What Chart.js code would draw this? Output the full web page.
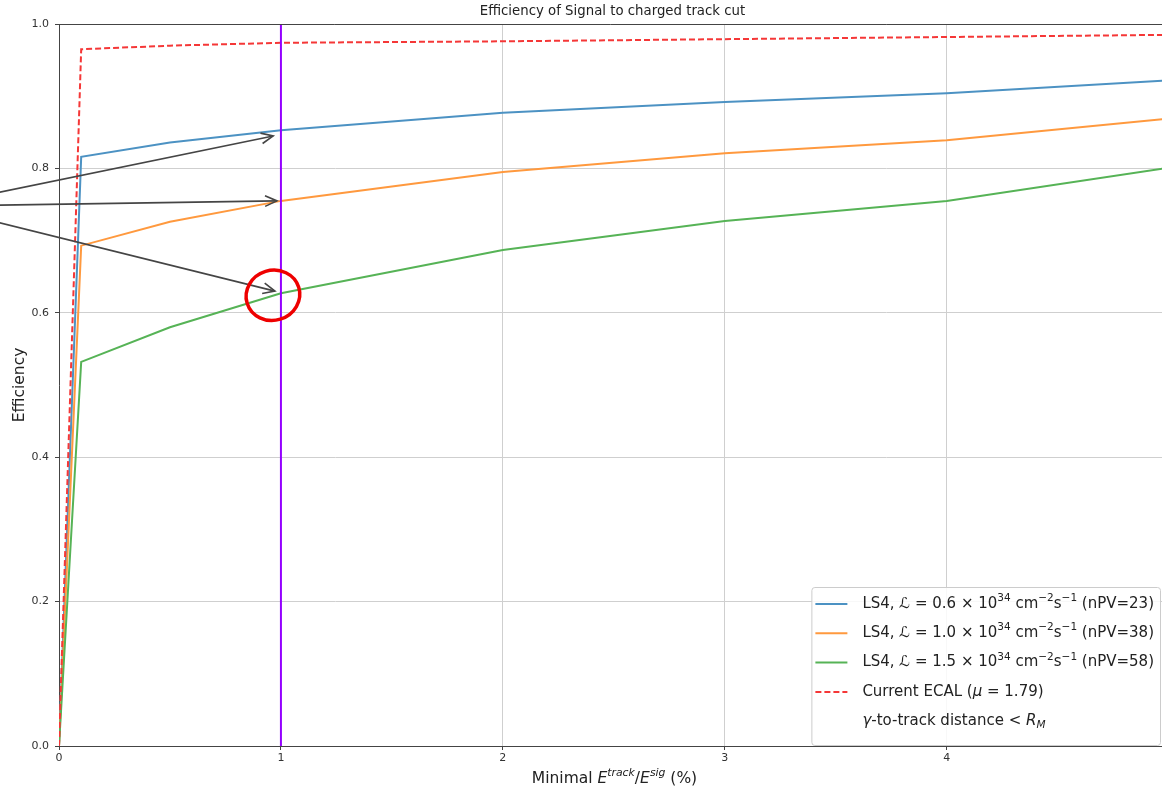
<!DOCTYPE html>
<html>
<head>
<meta charset="utf-8">
<title>Efficiency of Signal to charged track cut</title>
<script src="https://cdn.jsdelivr.net/npm/chart.js@4.4.1/dist/chart.umd.min.js"></script>
<style>
    html, body { margin: 0; padding: 0; background: #fff; overflow: hidden; }
    #wrap { width: 1162px; height: 790px; position: relative; }
</style>
</head>
<body>
<div id="wrap"><canvas id="myChart"></canvas></div>
<script>
// minimal E_track / E_sig cut (%)
const cutPercent = [0, 0.1, 0.5, 1, 2, 3, 4, 5];

// efficiencies
const effLS4Low = [0, 0.816, 0.836, 0.853, 0.877, 0.892, 0.904, 0.922];
const effLS4Mid = [0, 0.693, 0.726, 0.755, 0.795, 0.821, 0.839, 0.869];
const effLS4High = [0, 0.532, 0.580, 0.627, 0.687, 0.727, 0.755, 0.801];
const effCurrent = [0, 0.965, 0.970, 0.974, 0.976, 0.979, 0.982, 0.985];

const chosenCut = 1;
const xTicks = [0, 1, 2, 3, 4];
const yTicks = [0, 0.2, 0.4, 0.6, 0.8, 1.0];
const xMax = 4.97;

// *..* italic, ^{..} superscript, _{..} subscript
const seriesLabels = [
    'LS4, *ℒ* = 0.6 × 10^{34} cm^{−2}s^{−1} (nPV=23)',
    'LS4, *ℒ* = 1.0 × 10^{34} cm^{−2}s^{−1} (nPV=38)',
    'LS4, *ℒ* = 1.5 × 10^{34} cm^{−2}s^{−1} (nPV=58)',
    'Current ECAL (*μ* = 1.79)'
];
const extraLegendLabel = '*γ*-to-track distance < *R_{M}*';
const chartTitle = 'Efficiency of Signal to charged track cut';
const xTitle = 'Minimal *E^{track}*/*E^{sig}* (%)';
const yTitle = 'Efficiency';

// annotation arrows pointing at the chosen cut
const arrowStartY = [0.766, 0.749, 0.726];
const arrowTips = [
    { x: 0.965, y: 0.845 },
    { x: 0.982, y: 0.755 },
    { x: 0.973, y: 0.630 }
];

const FONT = '"DejaVu Sans", "Liberation Sans", sans-serif';

function toPoints(xs, ys) {
    return xs.map((x, i) => ({ x: x, y: ys[i] }));
}

function richSegments(str) {
    const segs = [];
    let italic = false;
    let buf = '';
    let i = 0;
    const flush = () => {
        if (buf) segs.push({ text: buf, italic: italic, mode: 'base' });
        buf = '';
    };
    while (i < str.length) {
        const c = str[i];
        if (c === '*') {
            flush();
            italic = !italic;
            i++;
        } else if ((c === '^' || c === '_') && str[i + 1] === '{') {
            flush();
            const end = str.indexOf('}', i);
            segs.push({ text: str.slice(i + 2, end), italic: italic, mode: c === '^' ? 'sup' : 'sub' });
            i = end + 1;
        } else {
            buf += c;
            i++;
        }
    }
    flush();
    return segs;
}

function segFont(seg, size) {
    const s = seg.mode === 'base' ? size : size * 0.7;
    return (seg.italic ? 'italic ' : '') + s + 'px ' + FONT;
}

function measureRich(ctx, str, size) {
    let w = 0;
    richSegments(str).forEach(seg => {
        ctx.font = segFont(seg, size);
        w += ctx.measureText(seg.text).width;
    });
    return w;
}

function drawRich(ctx, str, x, y, size, align) {
    const segs = richSegments(str);
    let cx = align === 'center' ? x - measureRich(ctx, str, size) / 2 : x;
    ctx.textAlign = 'left';
    ctx.textBaseline = 'middle';
    segs.forEach(seg => {
        ctx.font = segFont(seg, size);
        let dy = 0;
        if (seg.mode === 'sup') dy = -size * 0.38;
        if (seg.mode === 'sub') dy = size * 0.25;
        ctx.fillText(seg.text, cx, y + dy);
        cx += ctx.measureText(seg.text).width;
    });
}

const overlayPlugin = {
    id: 'overlay',
    afterDraw(chart) {
        const { ctx, chartArea: a } = chart;
        const xs = chart.scales.x;
        const ys = chart.scales.y;
        ctx.save();

        // top spine
        ctx.strokeStyle = '#444';
        ctx.lineWidth = 1;
        ctx.beginPath();
        ctx.moveTo(a.left, a.top + 0.5);
        ctx.lineTo(a.right, a.top + 0.5);
        ctx.stroke();

        // titles
        ctx.fillStyle = '#222';
        drawRich(ctx, chartTitle, (a.left + a.right) / 2 + 2, 12, 13.3, 'center');
        drawRich(ctx, xTitle, (a.left + a.right) / 2 + 4, 779, 15.5, 'center');

        // arrows
        ctx.strokeStyle = '#454545';
        ctx.lineWidth = 1.6;
        arrowTips.forEach((tip, i) => {
            const x0 = -4;
            const y0 = ys.getPixelForValue(arrowStartY[i]);
            const x1 = xs.getPixelForValue(tip.x);
            const y1 = ys.getPixelForValue(tip.y);
            const ang = Math.atan2(y1 - y0, x1 - x0);
            ctx.beginPath();
            ctx.moveTo(x0, y0);
            ctx.lineTo(x1, y1);
            ctx.stroke();
            const hl = 13, hw = 0.42;
            ctx.beginPath();
            ctx.moveTo(x1 - hl * Math.cos(ang - hw), y1 - hl * Math.sin(ang - hw));
            ctx.lineTo(x1, y1);
            ctx.lineTo(x1 - hl * Math.cos(ang + hw), y1 - hl * Math.sin(ang + hw));
            ctx.stroke();
        });

        // hand drawn circle round the chosen point
        const cx = xs.getPixelForValue(chosenCut) - 8;
        const cy = ys.getPixelForValue(effLS4High[cutPercent.indexOf(chosenCut)]) + 2;
        ctx.strokeStyle = '#ee0000';
        ctx.lineWidth = 3.5;
        ctx.beginPath();
        ctx.ellipse(cx, cy, 27, 25, -0.3, 0, Math.PI * 2);
        ctx.stroke();

        // legend
        const fs = 15;
        const labels = chart.data.datasets.filter(d => d.inLegend).map(d => d.label).concat([extraLegendLabel]);
        const styles = chart.data.datasets.filter(d => d.inLegend);
        let maxW = 0;
        labels.forEach(l => { maxW = Math.max(maxW, measureRich(ctx, l, fs)); });
        const boxW = 51 + maxW + 6;
        const boxH = 158;
        const right = a.right - 2;
        const left = right - boxW;
        const bottom = a.bottom - 1;
        const top = bottom - boxH;
        ctx.fillStyle = 'rgba(255,255,255,0.85)';
        ctx.strokeStyle = '#cccccc';
        ctx.lineWidth = 1;
        ctx.beginPath();
        ctx.roundRect(left + 0.5, top + 0.5, boxW, boxH, 3);
        ctx.fill();
        ctx.stroke();
        labels.forEach((l, i) => {
            const ry = top + 17 + i * 29.3;
            const st = styles[i];
            if (st) {
                ctx.strokeStyle = st.borderColor;
                ctx.lineWidth = st.borderWidth;
                ctx.setLineDash(st.borderDash || []);
                ctx.beginPath();
                ctx.moveTo(left + 4, ry);
                ctx.lineTo(left + 36, ry);
                ctx.stroke();
                ctx.setLineDash([]);
            }
            ctx.fillStyle = '#222';
            drawRich(ctx, l, left + 51, ry, fs, 'left');
        });

        ctx.restore();
    }
};

function lineSet(label, ys, color, order, dash) {
    return {
        label: label,
        data: toPoints(cutPercent, ys),
        borderColor: color,
        backgroundColor: color,
        borderWidth: 2,
        borderDash: dash || [],
        pointRadius: 0,
        tension: 0,
        fill: false,
        order: order,
        inLegend: true
    };
}

const ctx = document.getElementById('myChart').getContext('2d');
const myChart = new Chart(ctx, {
    type: 'line',
    data: {
        datasets: [
            lineSet(seriesLabels[0], effLS4Low, 'rgb(76,146,195)', 5),
            lineSet(seriesLabels[1], effLS4Mid, 'rgb(255,153,62)', 4),
            lineSet(seriesLabels[2], effLS4High, 'rgb(86,179,86)', 3),
            lineSet(seriesLabels[3], effCurrent, 'rgb(245,55,55)', 2, [6, 3]),
            {
                label: 'cut',
                data: [{ x: chosenCut, y: yTicks[0] }, { x: chosenCut, y: yTicks[yTicks.length - 1] }],
                borderColor: '#9400ff',
                borderWidth: 2,
                pointRadius: 0,
                order: 1,
                inLegend: false
            }
        ]
    },
    options: {
        responsive: true,
        maintainAspectRatio: false,
        animation: false,
        layout: { padding: { top: 24, right: 0, left: 0, bottom: 0 } },
        plugins: {
            legend: { display: false },
            title: { display: false },
            tooltip: { enabled: false }
        },
        scales: {
            x: {
                type: 'linear',
                min: 0,
                max: xMax,
                afterBuildTicks: (scale) => { scale.ticks = xTicks.map(v => ({ value: v })); },
                afterFit: (scale) => { scale.height = 44; },
                ticks: {
                    color: '#333',
                    font: { family: FONT, size: 11 },
                    padding: 2,
                    maxRotation: 0,
                    callback: (v) => String(v)
                },
                grid: { color: '#cfcfcf', lineWidth: 1, tickLength: 4, tickColor: '#444' },
                border: { display: true, color: '#444', width: 1 }
            },
            y: {
                type: 'linear',
                min: 0,
                max: 1,
                afterBuildTicks: (scale) => { scale.ticks = yTicks.map(v => ({ value: v })); },
                afterFit: (scale) => { scale.width = 59; },
                ticks: {
                    color: '#333',
                    font: { family: FONT, size: 11 },
                    padding: 6,
                    callback: (v) => Number(v).toFixed(1)
                },
                title: {
                    display: true,
                    text: yTitle,
                    color: '#222',
                    font: { family: FONT, size: 15.5 },
                    padding: { top: 11, bottom: 0 }
                },
                grid: { color: '#cfcfcf', lineWidth: 1, tickLength: 4, tickColor: '#444' },
                border: { display: true, color: '#444', width: 1 }
            }
        }
    },
    plugins: [overlayPlugin]
});
</script>
</body>
</html>
